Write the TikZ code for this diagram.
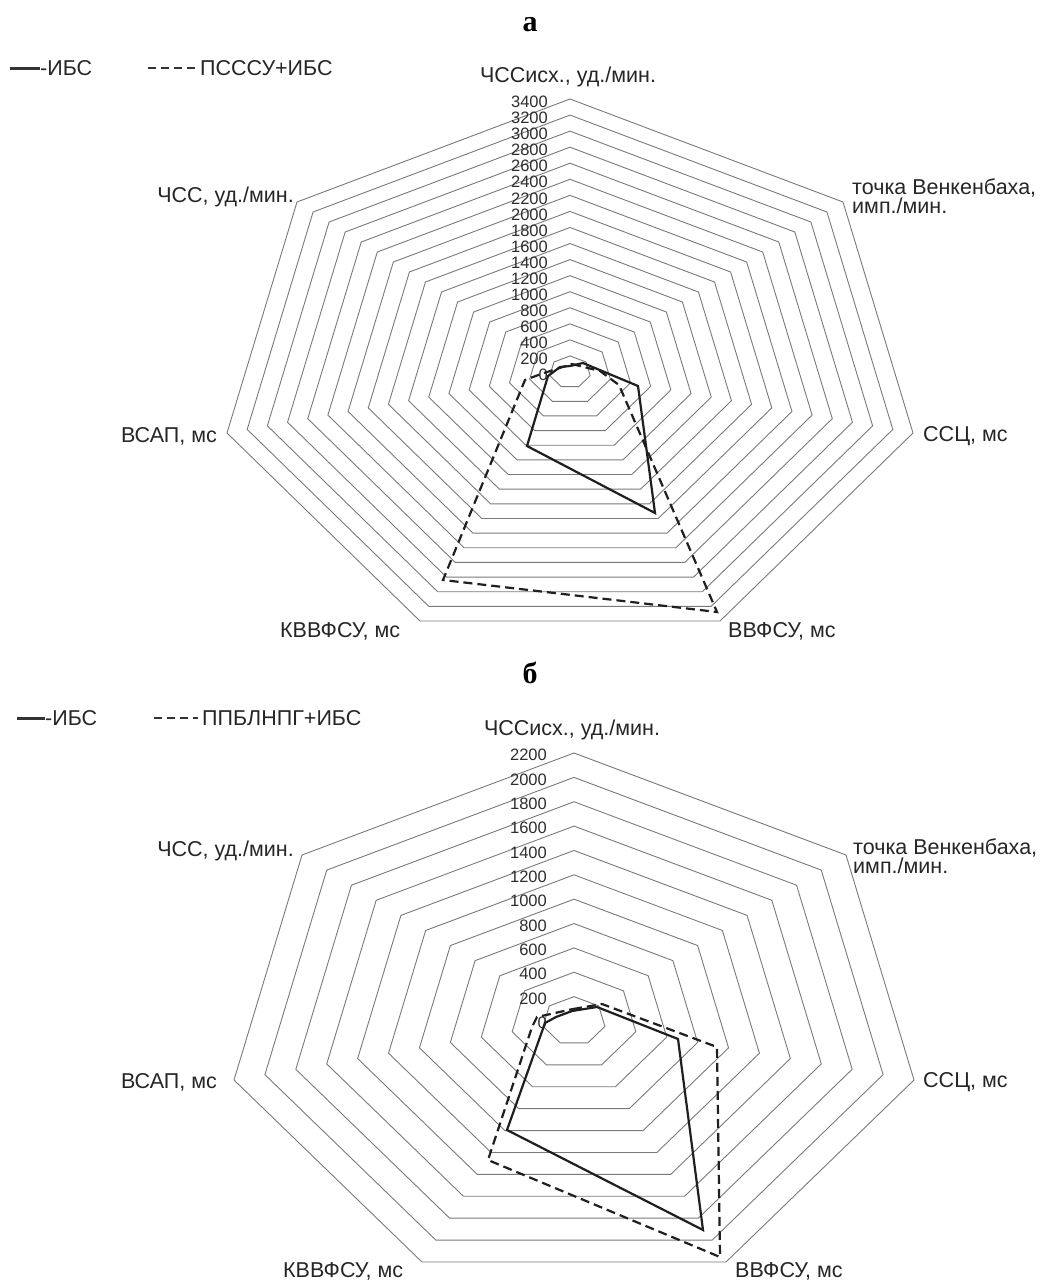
\documentclass[tikz,border=0pt]{standalone}
\usepackage{fontspec}
\setmainfont{Liberation Sans}
\newfontfamily\serifbold{Liberation Serif}
\begin{document}
\begin{tikzpicture}[x=1pt,y=-1pt,
  ring/.style={draw=black!52, line width=0.9pt, line join=miter},
  serA/.style={draw=black!88, line width=2.2pt, line join=miter},
  serB/.style={draw=black!88, line width=2.2pt, line join=miter, dash pattern=on 9pt off 5pt},
  lab/.style={font=\fontsize{21.5}{19}\selectfont, text=black!85, inner sep=0pt},
  ticklab/.style={font=\fontsize{16.5}{16.5}\selectfont, text=black!82, inner sep=0pt, anchor=east},
  ttl/.style={font=\serifbold\bfseries\fontsize{30}{30}\selectfont, inner sep=0pt}]
\useasboundingbox (0,0) rectangle (1052,1283);
\fill[white] (0,0) rectangle (1052,1283);

% ================= chart a =================
\node[ttl] (ta) at (530,25) {а};
\foreach \k in {1,...,17}{
  \pgfmathsetmacro\s{\k/17}
  \begin{scope}[shift={(570,372)}]
    \draw[ring] (0,-273*\s) -- (273*\s,-170*\s) -- (343*\s,61*\s) -- (150*\s,249*\s)
      -- (-150*\s,249*\s) -- (-343*\s,61*\s) -- (-273*\s,-170*\s) -- cycle;
  \end{scope}
}
\foreach \k in {0,...,17}{
  \pgfmathtruncatemacro\v{\k*200}
  \pgfmathsetmacro\yy{372-\k*273/17+3}
  \node[ticklab] (at\k) at (548,\yy) {\v};
}
\draw[serA] (570,366) -- (583,363) -- (638,386) -- (655,513) -- (527,446) -- (548,376) -- (560,367) -- cycle;
\draw[serB] (572,364) -- (600,371) -- (619,385) -- (717,612) -- (443,580) -- (525,380) -- (541,374) -- cycle;

\node[lab] (a0) at (568,77) {ЧССисх., уд./мин.};
\node[lab, anchor=west, align=left] (a1) at (852,196) {точка Венкенбаха,\\имп./мин.};
\node[lab, anchor=west] (a2) at (923,436) {ССЦ, мс};
\node[lab, anchor=west] (a3) at (728,631) {ВВФСУ, мс};
\node[lab, anchor=west] (a4) at (280,631) {КВВФСУ, мс};
\node[lab, anchor=east] (a5) at (217,436) {ВСАП, мс};
\node[lab, anchor=east] (a6) at (294,197) {ЧСС, уд./мин.};

% legend a
\coordinate (la1) at (10,68);
\coordinate (la2) at (40,68);
\draw[draw=black!80, line width=3pt] (la1) -- (la2);
\node[lab, anchor=west] (lat1) at (40,68) {-ИБС};
\coordinate (la3) at (148,68);
\coordinate (la4) at (195,68);
\draw[draw=black!80, line width=2pt, dash pattern=on 8pt off 5pt] (la3) -- (la4);
\node[lab, anchor=west] (lat2) at (200,68) {ПСССУ+ИБС};

% ================= chart b =================
\node[ttl] (tb) at (530,673) {б};
\foreach \k in {1,...,11}{
  \pgfmathsetmacro\s{\k/11}
  \begin{scope}[shift={(574,1021)}]
    \draw[ring] (0,-268*\s) -- (272*\s,-166*\s) -- (340*\s,59*\s) -- (152*\s,241*\s)
      -- (-152*\s,241*\s) -- (-340*\s,59*\s) -- (-272*\s,-166*\s) -- cycle;
  \end{scope}
}
\foreach \k in {0,...,11}{
  \pgfmathtruncatemacro\v{\k*200}
  \pgfmathsetmacro\yy{1021-\k*268/11+2}
  \node[ticklab] (bt\k) at (547,\yy) {\v};
}
\draw[serA] (572,1011) -- (597,1007) -- (678,1039) -- (703,1230) -- (507,1130) -- (545,1023) -- (556,1017) -- cycle;
\draw[serB] (573,1009) -- (602,1004) -- (717,1047) -- (720,1257) -- (488,1160) -- (532,1027) -- (537,1017) -- cycle;

\node[lab] (b0) at (572,730) {ЧССисх., уд./мин.};
\node[lab, anchor=west, align=left] (b1) at (853,856) {точка Венкенбаха,\\имп./мин.};
\node[lab, anchor=west] (b2) at (923,1082) {ССЦ, мс};
\node[lab, anchor=west] (b3) at (735,1271) {ВВФСУ, мс};
\node[lab, anchor=west] (b4) at (283,1271) {КВВФСУ, мс};
\node[lab, anchor=east] (b5) at (217,1082) {ВСАП, мс};
\node[lab, anchor=east] (b6) at (294,851) {ЧСС, уд./мин.};

% legend b
\coordinate (lb1) at (17,718);
\coordinate (lb2) at (45,718);
\draw[draw=black!80, line width=3pt] (lb1) -- (lb2);
\node[lab, anchor=west] (lbt1) at (45,718) {-ИБС};
\coordinate (lb3) at (154,718);
\coordinate (lb4) at (198,718);
\draw[draw=black!80, line width=2pt, dash pattern=on 8pt off 5pt] (lb3) -- (lb4);
\node[lab, anchor=west] (lbt2) at (202,718) {ППБЛНПГ+ИБС};
\end{tikzpicture}
\end{document}
